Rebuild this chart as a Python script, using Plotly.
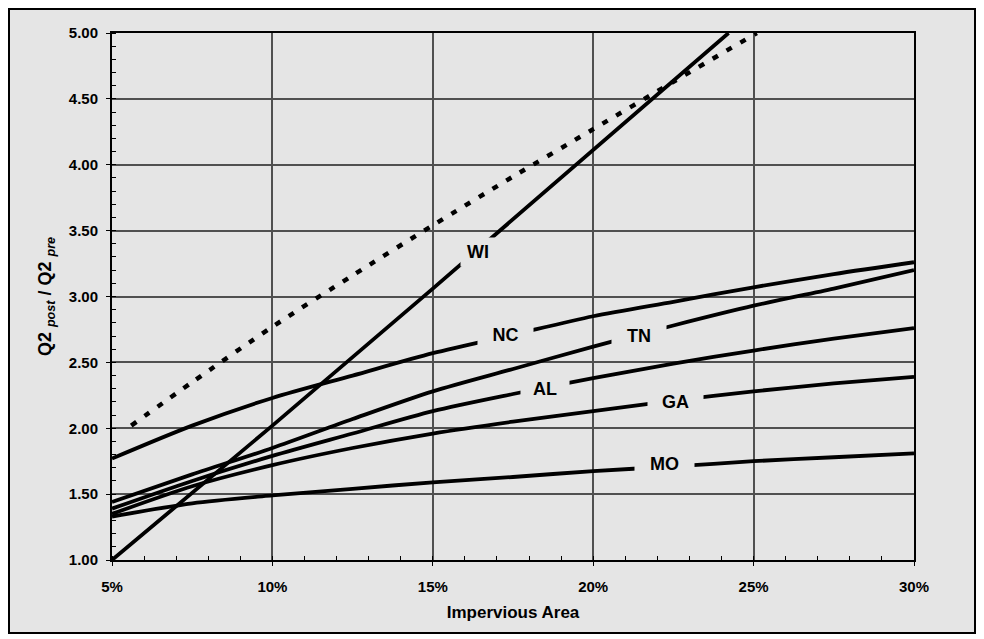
import plotly.graph_objects as go

# ---- data ----
impervious = [5, 7.5, 10, 12.5, 15, 17.5, 20, 22.5, 25, 27.5, 30]
nc = [1.77, 2.02, 2.23, 2.40, 2.57, 2.71, 2.85, 2.96, 3.07, 3.17, 3.26]
tn = [1.44, 1.65, 1.85, 2.07, 2.28, 2.45, 2.62, 2.78, 2.93, 3.06, 3.20]
al = [1.39, 1.60, 1.79, 1.96, 2.13, 2.26, 2.38, 2.49, 2.59, 2.68, 2.76]
ga = [1.35, 1.56, 1.72, 1.85, 1.96, 2.05, 2.13, 2.21, 2.28, 2.34, 2.39]
mo = [1.33, 1.43, 1.49, 1.54, 1.59, 1.63, 1.675, 1.71, 1.75, 1.78, 1.81]

wi_x = [5, 10, 15, 20, 24.22]
wi_y = [1.00, 2.02, 3.06, 4.11, 5.00]

dash_x = [5.6, 7.5, 10, 12.5, 15, 17.5, 20, 22.5, 25.1]
dash_y = [2.02, 2.35, 2.77, 3.16, 3.54, 3.91, 4.27, 4.63, 5.00]

labels = ["WI", "NC", "TN", "AL", "GA", "MO"]
label_x = [16.42, 17.28, 21.44, 18.5, 22.56, 22.21]
label_y = [3.34, 2.71, 2.70, 2.30, 2.20, 1.73]
gap_w = [32, 53, 52, 46, 53, 57]
gap_h = [26, 20, 20, 20, 20, 20]

x_ticks = [5, 10, 15, 20, 25, 30]
x_ticktext = ["5%", "10%", "15%", "20%", "25%", "30%"]
y_ticks = [1.0, 1.5, 2.0, 2.5, 3.0, 3.5, 4.0, 4.5, 5.0]

BG = "#e5e5e5"
LW = 3.8
FAM = "Liberation Sans, Arial"

W, H = 968, 626
ML, MR, MT, MB = 104, 62, 25, 74
PW, PH = W - ML - MR, H - MT - MB

fig = go.Figure()
for ys, nm in [(nc, "NC"), (tn, "TN"), (al, "AL"), (ga, "GA"), (mo, "MO")]:
    fig.add_trace(go.Scatter(x=impervious, y=ys, mode="lines", name=nm,
                             line=dict(color="black", width=LW, shape="spline", smoothing=0.8)))
fig.add_trace(go.Scatter(x=wi_x, y=wi_y, mode="lines", name="WI",
                         line=dict(color="black", width=LW)))
fig.add_trace(go.Scatter(x=dash_x, y=dash_y, mode="lines", name="ref",
                         line=dict(color="black", width=4.5, dash="6px,10px",
                                   shape="spline", smoothing=0.8)))

for t, x, y, w, h in zip(labels, label_x, label_y, gap_w, gap_h):
    fig.add_annotation(x=x, y=y, xref="x", yref="y", text="<b>%s</b>" % t,
                       showarrow=False, bgcolor=BG, width=w, height=h,
                       font=dict(family=FAM, size=18, color="black"))

# outer frame round the whole figure
fig.add_shape(type="rect", xref="paper", yref="paper",
              x0=(-ML + 1) / PW, x1=1 + (MR - 1) / PW,
              y0=(-MB + 1) / PH, y1=1 + (MT - 1) / PH,
              line=dict(color="black", width=2), fillcolor="rgba(0,0,0,0)", layer="above")

fig.update_layout(
    width=W, height=H,
    margin=dict(l=ML, r=MR, t=MT, b=MB),
    paper_bgcolor=BG,
    plot_bgcolor=BG,
    showlegend=False,
    xaxis=dict(range=[5, 30], tickvals=x_ticks, ticktext=["<b>%s</b>" % s for s in x_ticktext],
               tickfont=dict(family=FAM, size=15, color="black"),
               showgrid=True, gridcolor="#505050", gridwidth=1.5,
               zeroline=False, showline=True, linecolor="black", linewidth=2, mirror=True,
               ticks="outside", ticklen=4, tickcolor="black", ticklabelstandoff=8,
               minor=dict(ticks="inside", ticklen=4, dtick=1, tickcolor="black", showgrid=False),
               title=dict(text="<b>Impervious Area</b>",
                          font=dict(family=FAM, size=17, color="black"), standoff=12)),
    yaxis=dict(range=[1, 5], tickvals=y_ticks, tickformat=".2f",
               tickfont=dict(family=FAM, size=15, color="black", weight="bold"),
               showgrid=True, gridcolor="#505050", gridwidth=1.5,
               zeroline=False, showline=True, linecolor="black", linewidth=2, mirror=True,
               ticks="outside", ticklen=4, tickcolor="black", ticklabelstandoff=5,
               minor=dict(ticks="inside", ticklen=4, dtick=0.1, tickcolor="black", showgrid=False),
               title=dict(text="<b>Q2 <sub><i>post</i></sub> / Q2 <sub><i>pre</i></sub></b>",
                          font=dict(family=FAM, size=18, color="black"), standoff=12)),
)

fig.write_html("out.html")
